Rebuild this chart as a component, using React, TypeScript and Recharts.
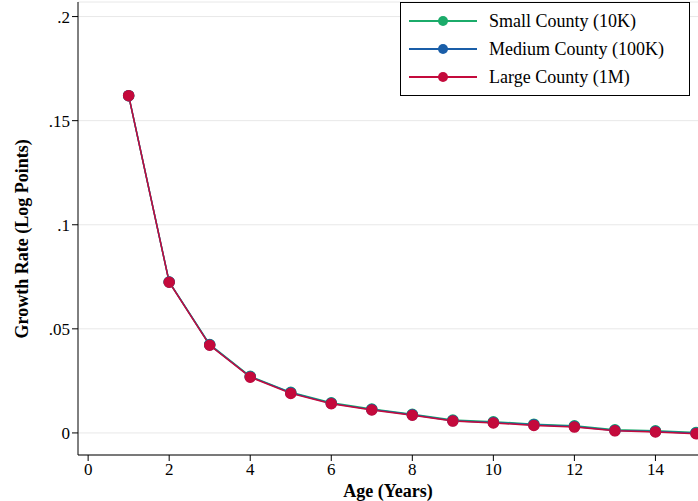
import { LineChart, Line, XAxis, YAxis, CartesianGrid } from 'recharts';

const ages = [1, 2, 3, 4, 5, 6, 7, 8, 9, 10, 11, 12, 13, 14, 15];
const small = [0.162, 0.0725, 0.0425, 0.0272, 0.0195, 0.0145, 0.0115, 0.009, 0.0062, 0.0054, 0.0042, 0.0034, 0.0015, 0.001, 0.0002];
const medium = [0.162, 0.0725, 0.0423, 0.027, 0.0193, 0.0142, 0.0112, 0.0087, 0.0059, 0.005, 0.0039, 0.0031, 0.0012, 0.0007, -0.0001];
const large = [0.162, 0.0724, 0.0421, 0.0268, 0.019, 0.014, 0.011, 0.0085, 0.0057, 0.0048, 0.0036, 0.0028, 0.001, 0.0005, -0.0004];
const xTicks = [0, 2, 4, 6, 8, 10, 12, 14];
const yTicks = [0, 0.05, 0.1, 0.15, 0.2];

const data = ages.map((age, i) => ({ age, small: small[i], medium: medium[i], large: large[i] }));

const series = [
  { key: 'small', name: 'Small County (10K)', color: '#1bab6a' },
  { key: 'medium', name: 'Medium County (100K)', color: '#1a5ea8' },
  { key: 'large', name: 'Large County (1M)', color: '#c40a3c' },
];

const font = '"Liberation Serif", serif';
const fmtY = (v: number) => (v === 0 ? '0' : String(v).replace(/^0/, ''));

const LegendBox = () => (
  <div style={{ position: 'absolute', left: 400, top: 2, width: 276, border: '1px solid #000', background: '#fff', padding: '4px 6px', fontFamily: font, fontSize: 18 }}>
    {series.map(s => (
      <div key={s.key} style={{ display: 'flex', alignItems: 'center', height: 28 }}>
        <svg width={72} height={12} style={{ marginRight: 10 }}>
          <line x1={2} y1={6} x2={70} y2={6} stroke={s.color} strokeWidth={2} />
          <circle cx={36} cy={6} r={5} fill={s.color} />
        </svg>
        <span>{s.name}</span>
      </div>
    ))}
  </div>
);

export default function App() {
  return (
    <div style={{ position: 'absolute', left: 0, top: 0, background: '#fff' }}>
      <LineChart width={698} height={501} data={data} margin={{ top: 2, right: 0, left: 0, bottom: 0 }}
        style={{ fontFamily: font }}>
        <CartesianGrid horizontal vertical={false} stroke="#e8e8e8" />
        <XAxis dataKey="age" type="number" domain={[-0.25, 15.05]} ticks={xTicks} height={46}
          stroke="#000" tick={{ fill: '#000', fontSize: 17 }} tickSize={6}
          label={{ value: 'Age (Years)', position: 'insideBottom', offset: 0, dy: -4, fill: '#000', fontSize: 18, fontWeight: 'bold' }} />
        <YAxis type="number" domain={[-0.0106, 0.207]} ticks={yTicks} width={78} tickFormatter={fmtY}
          stroke="#000" tick={{ fill: '#000', fontSize: 17 }} tickSize={6} allowDataOverflow
          label={{ value: 'Growth Rate (Log Points)', angle: -90, position: 'insideLeft', offset: 22, dy: 110, fill: '#000', fontSize: 18, fontWeight: 'bold' }} />
        {series.map(s => (
          <Line key={s.key} dataKey={s.key} name={s.name} stroke={s.color} strokeWidth={1.5}
            dot={{ r: 5, fill: s.color, stroke: s.color }} isAnimationActive={false} />
        ))}
      </LineChart>
      <LegendBox />
    </div>
  );
}
